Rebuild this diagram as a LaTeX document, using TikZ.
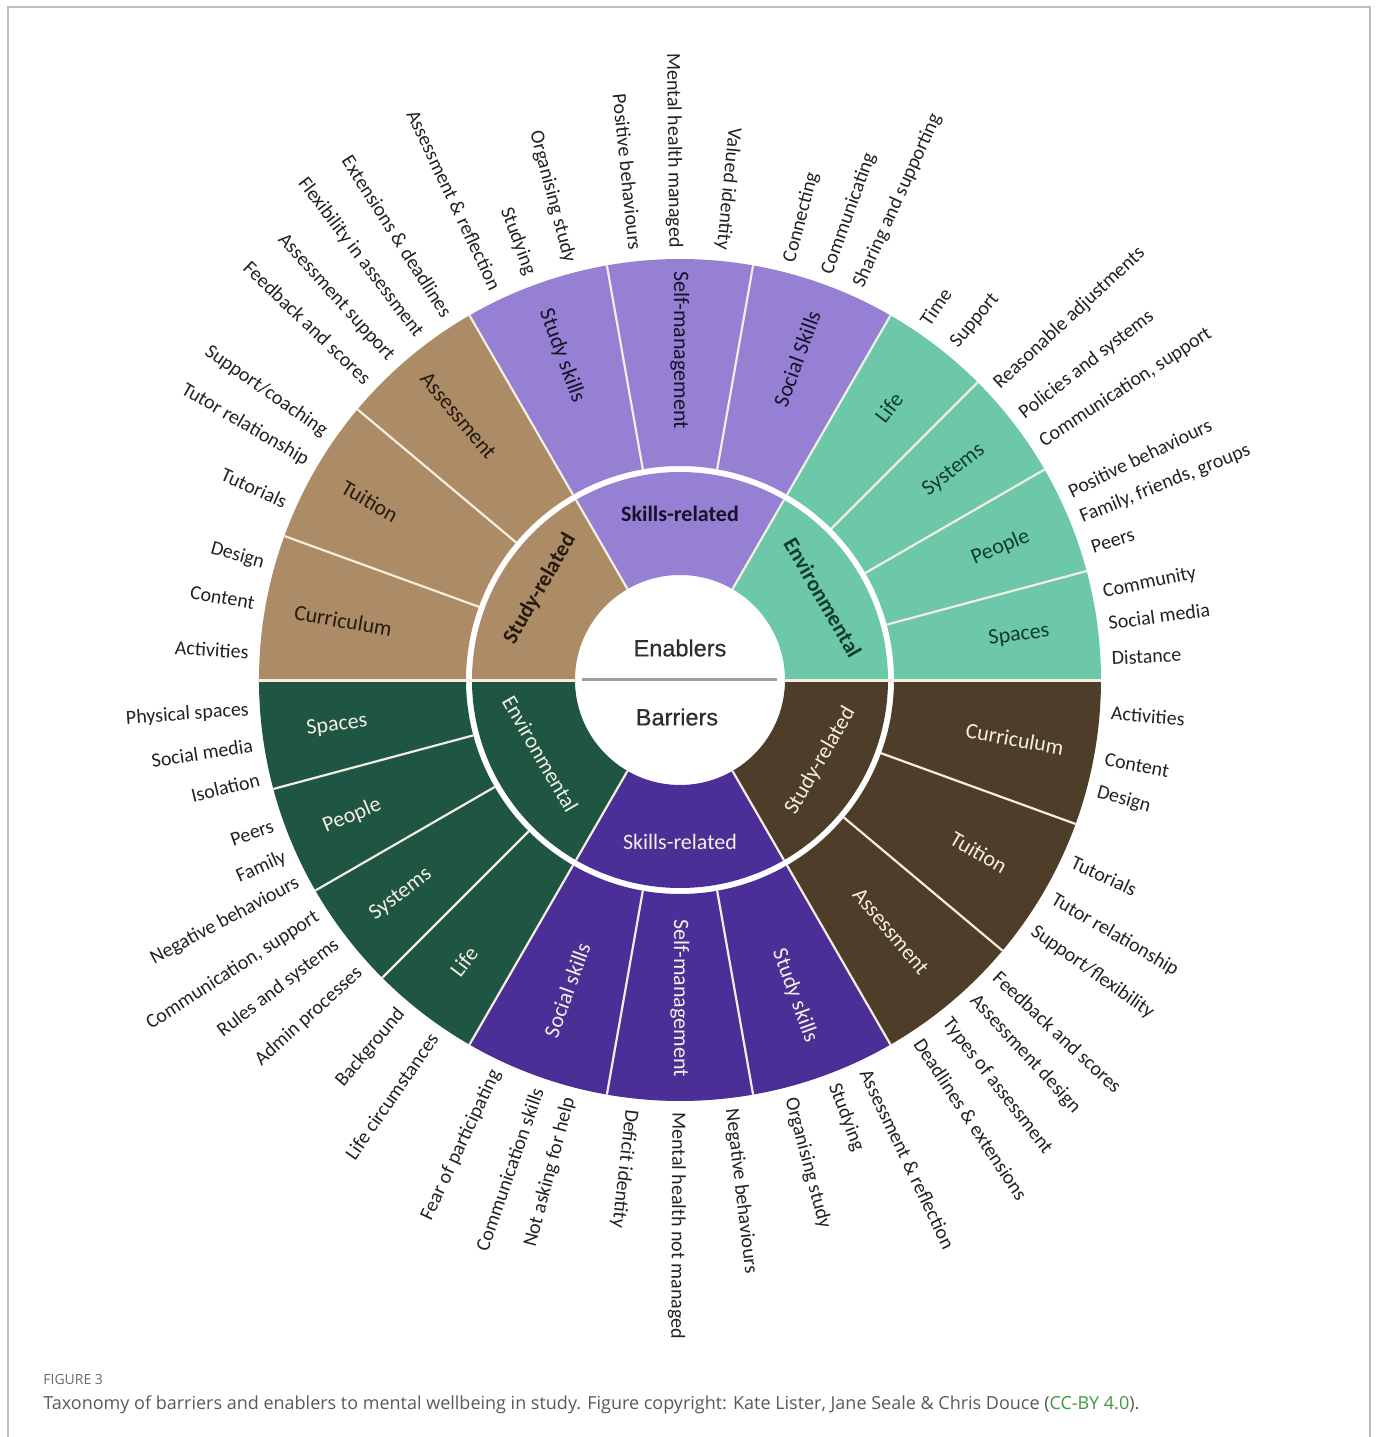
\documentclass[tikz,border=0pt]{standalone}
\usepackage{fontspec}
\usepackage{graphicx}
\setmainfont{Carlito}
\newfontfamily\cfont[FakeBold=0.6]{Liberation Sans}
\newfontfamily\capfont{Open Sans}
\definecolor{enStudy}{HTML}{AC8C66}
\definecolor{enSkills}{HTML}{9680D3}
\definecolor{enEnv}{HTML}{6CC8A9}
\definecolor{baEnv}{HTML}{1E5543}
\definecolor{baSkills}{HTML}{4C2F96}
\definecolor{baStudy}{HTML}{4E3D28}
\definecolor{enStudyT}{HTML}{261A0E}
\definecolor{enSkillsT}{HTML}{16122A}
\definecolor{enEnvT}{HTML}{123D2D}
\definecolor{baT}{HTML}{F4EFE2}
\definecolor{sepc}{HTML}{F3EEDF}
\definecolor{labc}{HTML}{222222}
\definecolor{capc}{HTML}{595959}
\definecolor{capgreen}{HTML}{3F9A3F}
\definecolor{framec}{HTML}{BDBDBD}
\newcommand\annsec[5]{\fill[#1] (#2:#4) arc[start angle=#2,end angle=#3,radius=#4] -- (#3:#5) arc[start angle=#3,end angle=#2,radius=#5] -- cycle;}
\tikzset{
  sepline/.style={draw=sepc, line width=1.1pt},
  olab/.style={inner sep=0pt, text=labc, font=\fontsize{10}{12}\selectfont},
  seclab/.style={inner sep=0pt, font=\fontsize{11}{13}\selectfont},
  inlab/.style={inner sep=0pt, font=\fontsize{11}{13}\selectfont},
}
\begin{document}
\begin{tikzpicture}[x=0.5pt,y=0.5pt]
\useasboundingbox (-680,680) rectangle (697,-757);
% frame
\draw[framec, line width=1pt] (-672,-757) -- (-672,673) -- (690,673) -- (690,-757);
% inner ring
\annsec{enStudy}{120}{180}{105}{208}
\annsec{enSkills}{60}{120}{105}{208}
\annsec{enEnv}{0}{60}{105}{208}
\annsec{baEnv}{180}{240}{105}{208}
\annsec{baSkills}{240}{300}{105}{208}
\annsec{baStudy}{300}{360}{105}{208}
% outer ring
\annsec{enStudy}{120}{180}{214}{421}
\annsec{enSkills}{60}{120}{214}{421}
\annsec{enEnv}{0}{60}{214}{421}
\annsec{baEnv}{180}{240}{214}{421}
\annsec{baSkills}{240}{300}{214}{421}
\annsec{baStudy}{300}{360}{214}{421}
% separators
\foreach \a in {160,140,120,100,80,60,45,30,15,195,210,225,240,260,280,300,320,340}
  \draw[sepline] (\a:214) -- (\a:421);
\foreach \a in {60,120,240,300}
  \draw[sepline] (\a:105) -- (\a:208);
\draw[draw=sepc, line width=1.5pt] (-421,0) -- (-105,0);
\draw[draw=sepc, line width=1.5pt] (105,0) -- (421,0);
% center
\draw[gray!75, line width=1.5pt] (-98,1) -- (97,1);
\node[font=\cfont\fontsize{11.75}{14}\selectfont, text=black!82] (enab) at (0,32) {Enablers};
\node[font=\cfont\fontsize{11.75}{14}\selectfont, text=black!82] (barr) at (-3,-37) {Barriers};
% inner labels
\node[inlab, font=\bfseries\fontsize{11}{13}\selectfont, text=enStudyT, rotate=60] (iStudyE) at (147:167) {Study-related};
\node[inlab, font=\bfseries\fontsize{11}{13}\selectfont, text=enSkillsT] (iSkillE) at (90:166) {Skills-related};
\node[inlab, font=\bfseries\fontsize{11}{13}\selectfont, text=enEnvT, rotate=-60] (iEnvE) at (30:165) {Environmental};
\node[inlab, text=baT, rotate=-60] (iEnvB) at (208:158) {Environmental};
\node[inlab, text=baT] (iSkillB) at (270:162) {Skills-related};
\node[inlab, text=baT, rotate=60] (iStudyB) at (330:162) {Study-related};
% sector labels, enablers
\node[seclab, text=enStudyT, rotate=-10] (sCurE) at (170:342) {Curriculum};
\node[seclab, text=enStudyT, rotate=-30] (sTuiE) at (150:358) {Tuition};
\node[seclab, text=enStudyT, rotate=-50] (sAssE) at (130:345) {Assessment};
\node[seclab, text=enSkillsT, rotate=-70] (sStuE) at (110:345) {Study skills};
\node[seclab, text=enSkillsT, rotate=-90] (sSelE) at (90:330) {Self-management};
\node[seclab, text=enSkillsT, rotate=70] (sSocE) at (70:342) {Social Skills};
\node[seclab, text=enEnvT, rotate=52.5] (sLifE) at (52.5:343) {Life};
\node[seclab, text=enEnvT, rotate=37.5] (sSysE) at (37.5:345) {Systems};
\node[seclab, text=enEnvT, rotate=22.5] (sPeoE) at (22.5:347) {People};
\node[seclab, text=enEnvT, rotate=7.5] (sSpaE) at (7.5:342) {Spaces};
% sector labels, barriers
\node[seclab, text=baT, rotate=-10] (sCurB) at (-10:340) {Curriculum};
\node[seclab, text=baT, rotate=-30] (sTuiB) at (-30:345) {Tuition};
\node[seclab, text=baT, rotate=-50] (sAssB) at (-50:328) {Assessment};
\node[seclab, text=baT, rotate=-70] (sStuB) at (-70:336) {Study skills};
\node[seclab, text=baT, rotate=-90] (sSelB) at (-90:318) {Self-management};
\node[seclab, text=baT, rotate=70] (sSocB) at (250:330) {Social skills};
\node[seclab, text=baT, rotate=52.5] (sLifB) at (232.5:355) {Life};
\node[seclab, text=baT, rotate=37.5] (sSysB) at (217.5:352) {Systems};
\node[seclab, text=baT, rotate=22.5] (sPeoB) at (202.5:355) {People};
\node[seclab, text=baT, rotate=7.5] (sSpaB) at (187.5:346) {Spaces};
% outer labels reading toward the ring
\foreach \a/\t [count=\i] in {176.3/Activities, 169.8/Content, 164.3/Design, 155.7/Tutorials, 149.6/Tutor relationship, 145.1/Support\slash coaching, 136.2/Feedback and scores, 132/Assessment support, 127.1/Flexibility in assessment, 122.5/Extensions \& deadlines, 115.2/Assessment \& reflection, 110.3/Studying, 104.8/Organising study, 95.9/Positive behaviours, 90.7/Mental health managed, 84.4/Valued identity, 255.2/Not asking for help, 250.8/Communication skills, 244.8/Fear of participating, 235.3/Life circumstances, 229.9/Background, 222.2/Admin processes, 217.5/Rules and systems, 213/{Communication, support}, 207.9/Negative behaviours, 204.1/Family, 199.7/Peers, 193.3/Isolation, 188.7/Social media, 184/Physical spaces}
  \node[olab, anchor=east, rotate=\a-180] (oL\i) at (\a:432) {\t};
% outer labels reading away from the ring
\foreach \a/\t [count=\i] in {75.3/Connecting, 70.1/Communicating, 65.6/Sharing and supporting, 55.6/Time, 50.6/Support, 42.9/Reasonable adjustments, 37.8/Policies and systems, 33.3/{Communication, support}, 25.8/Positive behaviours, 22/{Family, friends, groups}, 17.8/Peers, 11.7/Community, 7.6/Social media, 2.9/Distance, -4.4/Activities, -10.6/Content, -15.1/Design, -24.8/Tutorials, -30.4/Tutor relationship, -35.3/Support\slash flexibility, -43/Feedback and scores, -47.3/Assessment design, -52/Types of assessment, -56.5/Deadlines \& extensions, -64.6/Assessment \& reflection, -69.2/Studying, -75.2/Organising study, -83.2/Negative behaviours, -90.3/Mental health not managed, -96.5/Deficit identity}
  \node[olab, anchor=west, rotate=\a] (oR\i) at (\a:432) {\t};
% caption
\node[anchor=base west, inner sep=0pt, text=capc!90, font=\capfont\fontsize{7}{8}\selectfont] (figlab) at (-637,-704) {FIGURE 3};
\node[anchor=base west, inner sep=0pt, text=capc, font=\capfont\fontsize{8}{10}\selectfont] (caption) at (-637,-729) {\resizebox{548pt}{!}{Taxonomy of barriers and enablers to mental wellbeing in study. Figure copyright: Kate Lister, Jane Seale \& Chris Douce (\textcolor{capgreen}{CC-BY 4.0}).}};
\end{tikzpicture}
\end{document}
